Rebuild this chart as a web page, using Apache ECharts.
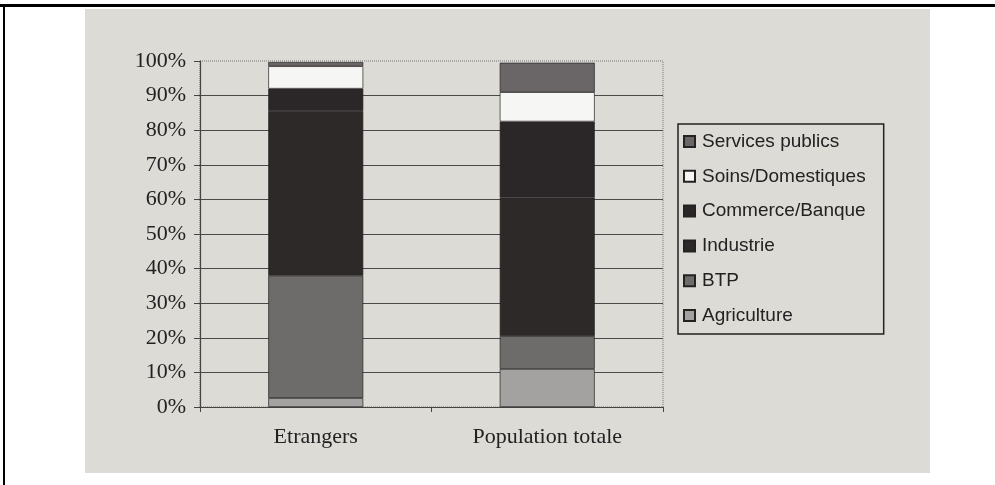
<!DOCTYPE html>
<html>
<head>
<meta charset="utf-8">
<script src="https://cdn.jsdelivr.net/npm/echarts@6/dist/echarts.min.js"></script>
<style>
html,body{margin:0;padding:0;background:#fff;}
#c{width:995px;height:485px;}
</style>
</head>
<body>
<div id="c"></div>
<script>
const categories = ['Etrangers', 'Population totale'];
const agriculture = [2.6, 11];
const btp = [35.4, 9.5];
const industrie = [47.5, 40];
const commerce = [6.5, 22];
const soins = [6.5, 8.5];
const services = [1.2, 8.5];
const legendOrder = ['Services publics', 'Soins/Domestiques', 'Commerce/Banque', 'Industrie', 'BTP', 'Agriculture'];

const chart = echarts.init(document.getElementById('c'));
function s(name, data, color) {
  return {
    name: name, type: 'bar', stack: 'total', data: data, barWidth: 95,
    itemStyle: { color: color, borderColor: '#262222', borderWidth: 0.7 }
  };
}
chart.setOption({
  backgroundColor: '#ffffff',
  animation: false,
  graphic: [
    { type: 'rect', z: -10, shape: { x: 85, y: 9, width: 845, height: 464 }, style: { fill: '#dddbd6' } },
    { type: 'rect', z: 10, shape: { x: 0, y: 4, width: 995, height: 3 }, style: { fill: '#000' } },
    { type: 'rect', z: 10, shape: { x: 3, y: 4, width: 2, height: 481 }, style: { fill: '#000' } }
  ],
  grid: { left: 200, right: 332, top: 61, bottom: 78, show: true, borderColor: '#777', borderWidth: 1, borderType: 'dotted', backgroundColor: 'transparent' },
  legend: {
    data: legendOrder, orient: 'vertical', left: 678, top: 124,
    padding: [8, 18, 9, 5], itemGap: 15.8, itemWidth: 11, itemHeight: 11,
    borderColor: '#222', borderWidth: 1.5, backgroundColor: 'transparent',
    icon: 'rect',
    textStyle: { fontFamily: 'Liberation Sans', fontSize: 19, color: '#222', padding: [0, 0, 0, 2] }
  },
  xAxis: {
    type: 'category', data: categories,
    axisLine: { lineStyle: { color: '#444', width: 1.2 } },
    axisTick: { show: true, length: 5, lineStyle: { color: '#444' } },
    axisLabel: { fontFamily: 'Liberation Serif', fontSize: 22, color: '#222', margin: 19 }
  },
  yAxis: {
    type: 'value', min: 0, max: 100, interval: 10,
    axisLine: { show: true, lineStyle: { color: '#444', width: 1.2 } },
    axisTick: { show: true, length: 6, lineStyle: { color: '#444' } },
    axisLabel: { formatter: '{value}%', fontFamily: 'Liberation Serif', fontSize: 22, color: '#222', margin: 14 },
    splitLine: { show: true, showMaxLine: false, lineStyle: { color: '#4a4a4a', width: 1 } }
  },
  series: [
    s('Agriculture', agriculture, '#a4a2a1'),
    s('BTP', btp, '#6e6b6b'),
    s('Industrie', industrie, '#2e2929'),
    s('Commerce/Banque', commerce, '#2b2628'),
    s('Soins/Domestiques', soins, '#f6f6f4'),
    s('Services publics', services, '#6a6667')
  ]
});
</script>
</body>
</html>
